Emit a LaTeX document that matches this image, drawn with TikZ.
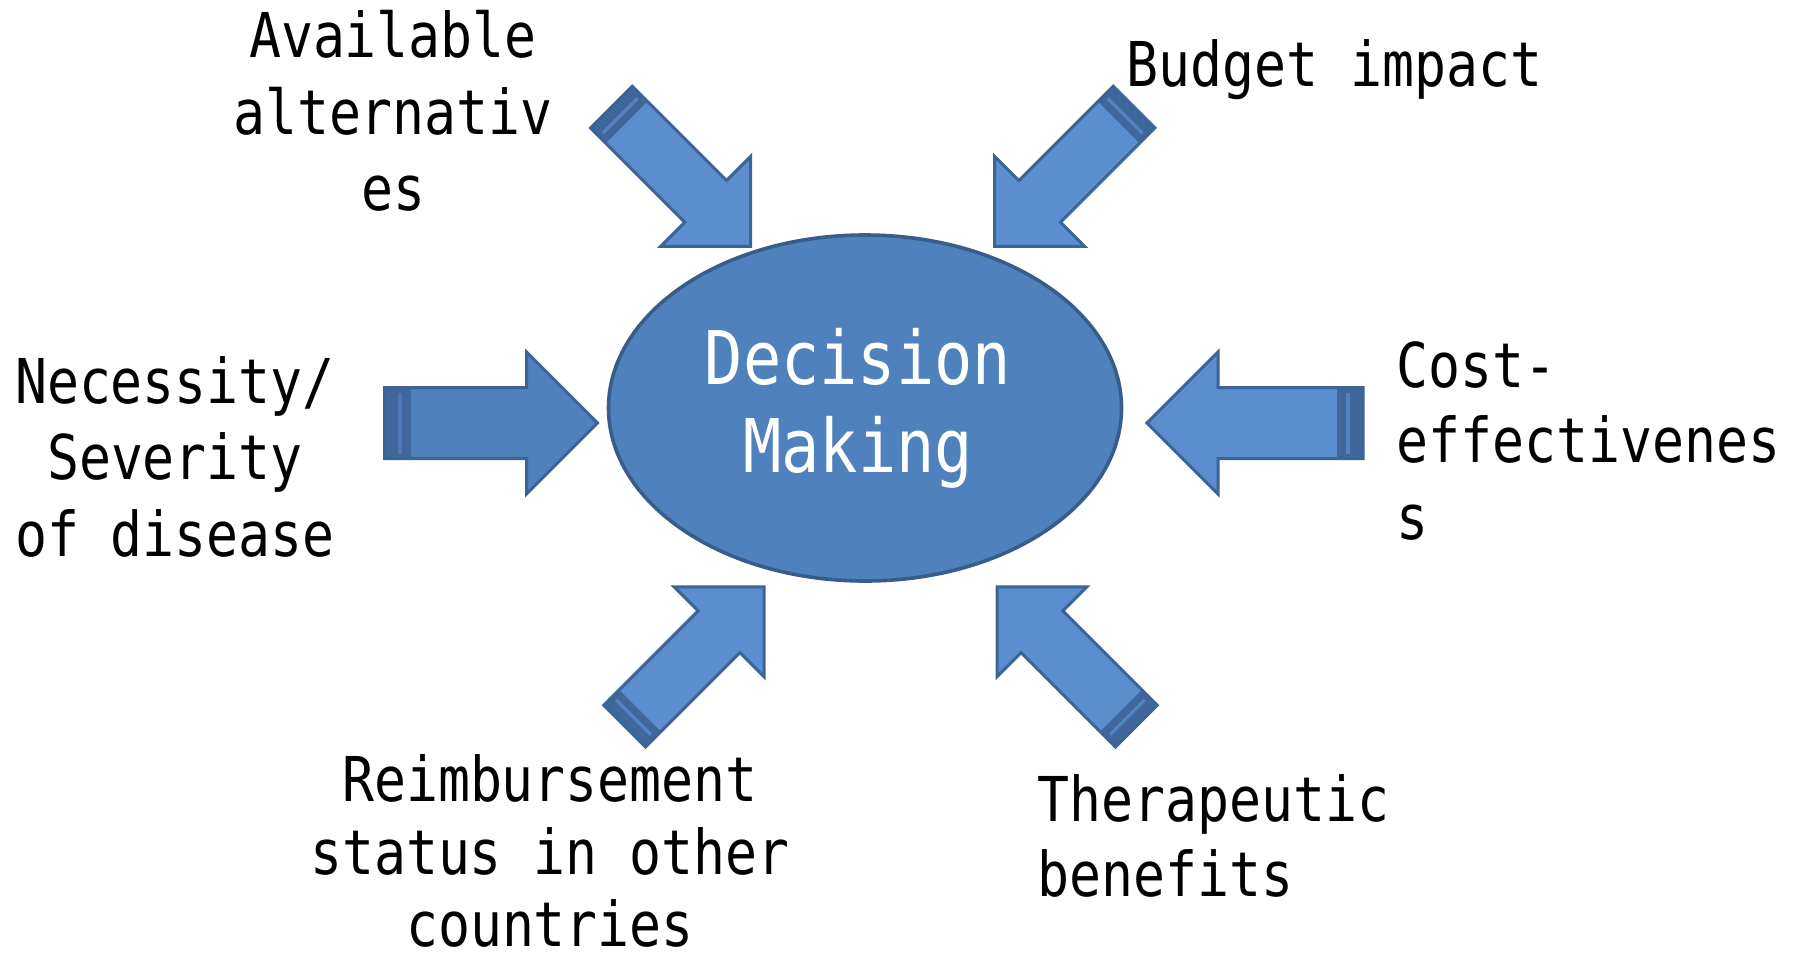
\documentclass[tikz,border=0pt]{standalone}
\usepackage{fontspec}
\newfontfamily\labfont{DejaVu Sans Mono}[FakeStretch=0.86]
\usetikzlibrary{shapes.geometric}
\definecolor{ellfill}{HTML}{4F81BD}
\definecolor{ellline}{HTML}{385D8A}
\definecolor{arrfillA}{HTML}{4F81BD}
\definecolor{arrfillB}{HTML}{5A8ECF}
\definecolor{arrline}{HTML}{3C6596}
\definecolor{stripedark}{HTML}{40679B}
\tikzset{
  arrowbody/.style={draw=arrline, line width=1.5pt, line join=miter},
  outerlabel/.style={font=\labfont\fontsize{30.9}{38}\selectfont, inner sep=0pt, text=black},
  innerlabel/.style={font=\labfont\fontsize{37}{44}\selectfont, inner sep=0pt, text=white},
}
% #1 tip x, #2 tip y, #3 angle, #4 length, #5 shaft half width, #6 head size, #7 fill, #8 stripe scale
\newcommand{\BlockArrow}[8]{%
  \begin{scope}[shift={(#1,#2)}, rotate=#3]
    \fill[#7] (0,0) -- (-#6,#6) -- (-#6,#5) -- (-#4,#5) -- (-#4,-#5) -- (-#6,-#5) -- (-#6,-#6) -- cycle;
    \fill[stripedark] (-#4,-#5) rectangle ({-#4+26*#8},#5);
    \fill[#7!70!stripedark] ({-#4+13*#8},{-#5+5}) rectangle ({-#4+17*#8},{#5-5});
    \draw[arrowbody] (0,0) -- (-#6,#6) -- (-#6,#5) -- (-#4,#5) -- (-#4,-#5) -- (-#6,-#5) -- (-#6,-#6) -- cycle;
  \end{scope}}
\begin{document}
\begin{tikzpicture}[x=0.5pt,y=-0.5pt]
\useasboundingbox[fill=white] (0,0) rectangle (1797,964);

% central ellipse
\node[ellipse, draw=ellline, line width=1.8pt, fill=ellfill, minimum width=256.5pt, minimum height=173pt, inner sep=0pt] (dm) at (865,408) {};
\node[innerlabel, anchor=base] (dec1) at (858,384) {Decision};
\node[innerlabel, anchor=base] (dec2) at (858,472) {Making};

% arrows
\BlockArrow{597.5}{423}{0}{213}{35.5}{71}{arrfillA}{1}
\BlockArrow{1147}{423}{180}{216}{35.5}{71}{arrfillB}{1}
\BlockArrow{750.6}{246.4}{-45}{197}{29.5}{63.6}{arrfillB}{0.83}
\BlockArrow{994.7}{246.4}{-135}{197}{29.5}{63.6}{arrfillB}{0.83}
\BlockArrow{764}{586.8}{45}{197}{29.5}{63.6}{arrfillB}{0.83}
\BlockArrow{997}{586.8}{135}{197}{29.5}{63.6}{arrfillB}{0.83}

% labels
\node[outerlabel, anchor=base] (av1) at (393,57) {Available};
\node[outerlabel, anchor=base] (av2) at (393,134) {alternativ};
\node[outerlabel, anchor=base] (av3) at (393,210) {es};

\node[outerlabel, anchor=base west] (bud) at (1126,86) {Budget impact};

\node[outerlabel, anchor=base] (nec1) at (175,403) {Necessity/};
\node[outerlabel, anchor=base] (nec2) at (175,479) {Severity};
\node[outerlabel, anchor=base] (nec3) at (175,556) {of disease};

\node[outerlabel, anchor=base west] (ce1) at (1396,387) {Cost-};
\node[outerlabel, anchor=base west] (ce2) at (1396,462) {effectivenes};
\node[outerlabel, anchor=base west] (ce3) at (1396,539) {s};

\node[outerlabel, anchor=base] (re1) at (550,801) {Reimbursement};
\node[outerlabel, anchor=base] (re2) at (550,874) {status in other};
\node[outerlabel, anchor=base] (re3) at (550,946) {countries};

\node[outerlabel, anchor=base west] (th1) at (1037,821) {Therapeutic};
\node[outerlabel, anchor=base west] (th2) at (1037,896) {benefits};
\end{tikzpicture}
\end{document}
